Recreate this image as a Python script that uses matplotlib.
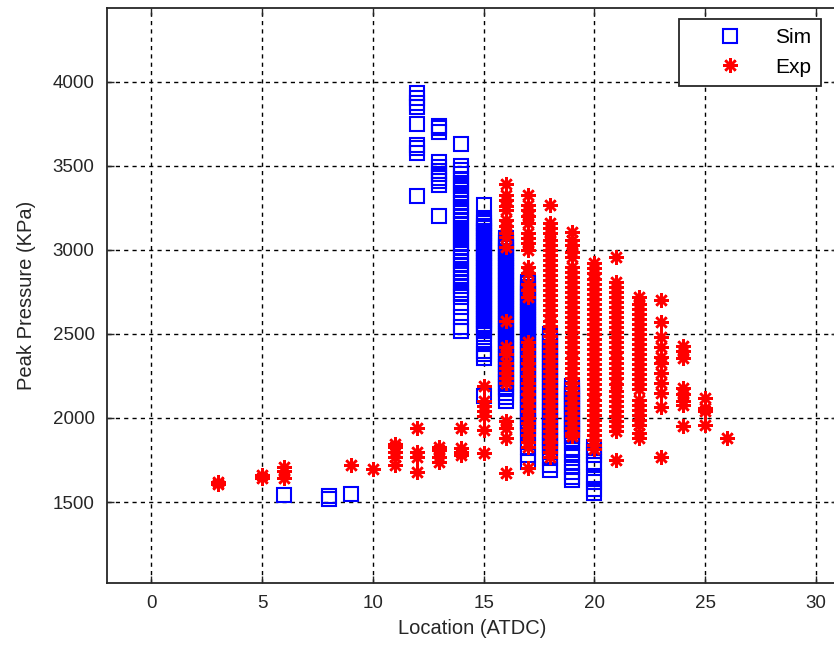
import matplotlib
matplotlib.use('Agg')
import matplotlib.pyplot as plt

plt.rcParams['font.family'] = ['Liberation Sans', 'DejaVu Sans']

# Sim: x location -> peak pressures (KPa)
sim_x = [6, 8, 9, 12, 13, 14, 15, 16, 17, 18, 19, 20]
sim_p = [
    [1540],
    [1520, 1535],
    [1545],
    [3935, 3905, 3875, 3850, 3750, 3625, 3605, 3580, 3320],
    [3740, 3725, 3705, 3525, 3495, 3470, 3455, 3430, 3410, 3385, 3200],
    [3630, 3500, 3475, 3450, 3425, 3400, 3380, 3355, 3330, 3305, 3280, 3255,
     3230, 3205, 3180, 3155, 3130, 3105, 3085, 3060, 3035, 3010, 2985, 2960,
     2935, 2910, 2885, 2860, 2835, 2810, 2785, 2760, 2740, 2720, 2660, 2600,
     2540, 2520],
    [3265, 3190, 3175, 3160, 3145, 3130, 3115, 3100, 3085, 3070, 3055, 3040,
     3025, 3010, 2995, 2980, 2965, 2950, 2935, 2920, 2905, 2890, 2875, 2860,
     2845, 2830, 2815, 2800, 2785, 2770, 2755, 2740, 2725, 2710, 2695, 2680,
     2665, 2650, 2635, 2620, 2605, 2590, 2575, 2560, 2545, 2530, 2515, 2500,
     2450, 2400, 2380, 2360, 2130],
    [3070, 3055, 3040, 3025, 3010, 2995, 2980, 2965, 2950, 2935, 2920, 2905,
     2890, 2875, 2860, 2845, 2830, 2815, 2800, 2785, 2770, 2755, 2740, 2725,
     2710, 2695, 2680, 2665, 2650, 2635, 2620, 2605, 2590, 2575, 2560, 2545,
     2530, 2515, 2500, 2485, 2470, 2455, 2440, 2425, 2410, 2395, 2380, 2365,
     2350, 2335, 2320, 2305, 2290, 2275, 2260, 2245, 2230, 2215, 2200, 2185,
     2170, 2150, 2125, 2100],
    [2810, 2795, 2780, 2765, 2750, 2735, 2720, 2705, 2690, 2675, 2660, 2645,
     2630, 2615, 2600, 2585, 2570, 2555, 2540, 2525, 2510, 2495, 2480, 2465,
     2450, 2435, 2420, 2405, 2390, 2375, 2360, 2345, 2330, 2315, 2300, 2285,
     2270, 2255, 2240, 2225, 2210, 2195, 2180, 2165, 2150, 2135, 2120, 2105,
     2090, 2075, 2060, 2045, 2030, 2015, 2000, 1985, 1970, 1955, 1940, 1920,
     1900, 1860, 1830, 1780, 1740],
    [2500, 2485, 2470, 2455, 2440, 2425, 2410, 2395, 2380, 2365, 2350, 2335,
     2320, 2305, 2290, 2275, 2260, 2245, 2230, 2215, 2200, 2185, 2170, 2155,
     2140, 2125, 2110, 2095, 2080, 2065, 2050, 2035, 2020, 2005, 1990, 1975,
     1960, 1945, 1930, 1915, 1900, 1885, 1870, 1855, 1840, 1825, 1810, 1795,
     1760, 1720, 1690],
    [2190, 2175, 2160, 2145, 2130, 2115, 2100, 2085, 2070, 2055, 2040, 2025,
     2010, 1995, 1980, 1965, 1950, 1935, 1920, 1905, 1890, 1875, 1850, 1810,
     1780, 1740, 1710, 1680, 1650, 1630],
    [1830, 1805, 1780, 1740, 1720, 1650, 1620, 1580, 1555],
]

# Exp: x location -> peak pressures (KPa)
exp_x = [3, 5, 6, 9, 10, 11, 12, 13, 14, 15, 16, 17, 18, 19, 20, 21, 22,
         23, 24, 25, 26]
exp_p = [
    [1610, 1620],
    [1640, 1660],
    [1645, 1685, 1710],
    [1720],
    [1695],
    [1720, 1770, 1800, 1825, 1845],
    [1680, 1770, 1795, 1940],
    [1740, 1765, 1810, 1830],
    [1780, 1800, 1820, 1940],
    [1790, 1930, 2010, 2040, 2070, 2100, 2190],
    [3395, 3330, 3300, 3260, 3240, 3180, 3140, 3100, 3075, 3020, 2580, 2420,
     2380, 2330, 2300, 2270, 2240, 2210, 1980, 1940, 1880, 1675],
    [3330, 3270, 3240, 3200, 3160, 3100, 3070, 3040, 3000, 2900, 2860, 2800,
     2760, 2720, 2450, 2410, 2370, 2330, 2290, 2250, 2210, 2180, 2140, 2110,
     2070, 2040, 2000, 1970, 1930, 1900, 1860, 1830, 1700],
    [3265, 3160, 3130, 3100, 3060, 3030, 3000, 2970, 2940, 2910, 2880, 2850,
     2820, 2790, 2760, 2730, 2700, 2670, 2640, 2610, 2580, 2550, 2520, 2490,
     2460, 2430, 2400, 2370, 2340, 2310, 2280, 2250, 2220, 2190, 2160, 2130,
     2100, 2070, 2040, 2010, 1980, 1950, 1920, 1890, 1860, 1830, 1800, 1770],
    [3105, 3060, 3030, 2990, 2960, 2900, 2870, 2840, 2810, 2780, 2750, 2720,
     2690, 2660, 2630, 2600, 2570, 2540, 2510, 2480, 2450, 2420, 2390, 2360,
     2330, 2300, 2270, 2240, 2210, 2180, 2150, 2120, 2090, 2060, 2030, 2000,
     1970, 1940, 1910, 1890],
    [2920, 2890, 2860, 2830, 2800, 2770, 2740, 2710, 2680, 2650, 2620, 2590,
     2560, 2530, 2500, 2470, 2440, 2410, 2380, 2350, 2320, 2290, 2260, 2230,
     2200, 2170, 2140, 2110, 2080, 2050, 2020, 1990, 1960, 1930, 1900, 1870,
     1840, 1815],
    [2960, 2810, 2780, 2750, 2720, 2690, 2660, 2630, 2600, 2570, 2540, 2510,
     2480, 2450, 2420, 2390, 2360, 2330, 2300, 2270, 2240, 2200, 2160, 2130,
     2100, 2070, 2040, 2010, 1980, 1950, 1920, 1750],
    [2720, 2680, 2650, 2620, 2590, 2560, 2530, 2500, 2470, 2440, 2410, 2380,
     2350, 2320, 2290, 2260, 2230, 2200, 2170, 2110, 2080, 2050, 2020, 1990,
     1960, 1910, 1880],
    [2700, 2570, 2480, 2420, 2365, 2330, 2270, 2210, 2150, 2065, 1765],
    [2430, 2400, 2360, 2180, 2140, 2100, 2080, 1950],
    [2120, 2060, 2040, 1960],
    [1880],
]

sx, sy = [], []
for x, col in zip(sim_x, sim_p):
    sx += [x] * len(col)
    sy += col
ex, ey = [], []
for x, col in zip(exp_x, exp_p):
    ex += [x] * len(col)
    ey += col

fig = plt.figure(figsize=(8.34, 6.52), dpi=100)
ax = fig.add_axes([107 / 834, 69 / 652, 731 / 834, 575 / 652])

ax.plot(sx, sy, linestyle='none', marker='s', markersize=9.5,
        markerfacecolor='none', markeredgecolor='#0000ff', markeredgewidth=1.5,
        label='Sim')
ax.plot(ex, ey, linestyle='none', marker=(8, 2, 0), markersize=10.5,
        markeredgecolor='#ff0000', markeredgewidth=1.8, label='Exp')

ax.set_xlim(-2, 31)
ax.set_ylim(1018, 4440)
ax.set_xticks([0, 5, 10, 15, 20, 25, 30])
ax.set_yticks([1500, 2000, 2500, 3000, 3500, 4000])
ax.grid(True, color='black', linestyle=(0, (3, 3)), linewidth=1.0)
ax.tick_params(direction='in', length=5, width=1, top=True, right=True,
               labelsize=13.5, colors='#262626', pad=9)
for sp in ax.spines.values():
    sp.set_linewidth(1.3)
    sp.set_color('#262626')

ax.set_xlabel('Location (ATDC)', fontsize=14.5, color='#262626', labelpad=5)
ax.set_ylabel('Peak Pressure (KPa)', fontsize=14.5, color='#262626', labelpad=12)

leg = ax.legend(loc='upper right', bbox_to_anchor=(821 / 834, 1 - 19 / 652),
                bbox_transform=fig.transFigure, borderaxespad=0,
                fancybox=False, framealpha=1, edgecolor='#262626',
                fontsize=15, handlelength=4.0, handletextpad=0.2,
                borderpad=0.45, labelspacing=0.5, numpoints=1)
leg.get_frame().set_linewidth(1.3)

fig.savefig('out.png', dpi=100)
